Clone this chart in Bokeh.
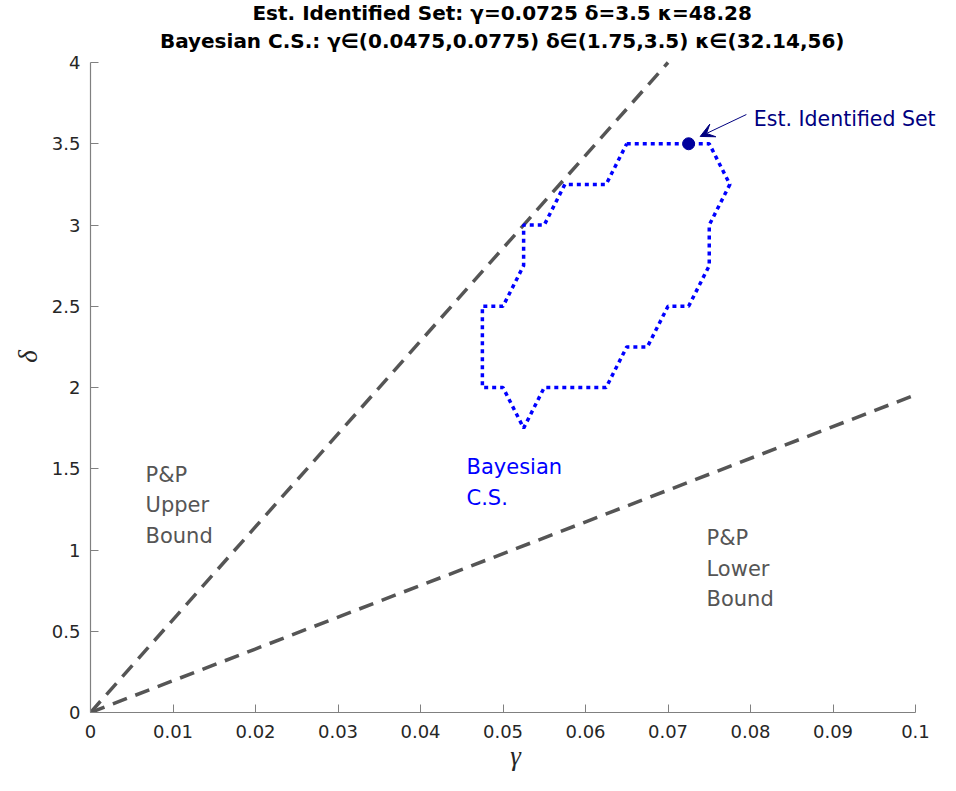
from bokeh.plotting import figure
from bokeh.models import Range1d, Label, Arrow, VeeHead, FixedTicker
from bokeh.embed import file_html
from bokeh.resources import INLINE

# ---- data ----
x_ticks = [0, 0.01, 0.02, 0.03, 0.04, 0.05, 0.06, 0.07, 0.08, 0.09, 0.1]
x_tick_labels = ["0", "0.01", "0.02", "0.03", "0.04", "0.05", "0.06", "0.07", "0.08", "0.09", "0.1"]
y_ticks = [0, 0.5, 1, 1.5, 2, 2.5, 3, 3.5, 4]
y_tick_labels = ["0", "0.5", "1", "1.5", "2", "2.5", "3", "3.5", "4"]

upper_gamma = [0.0, 0.07]
upper_delta = [0.0, 4.0]
lower_gamma = [0.0, 0.1]
lower_delta = [0.0, 1.955]

cs_gamma = [0.065, 0.075, 0.0775, 0.075, 0.075, 0.0725, 0.07, 0.0675, 0.065, 0.0625,
            0.055, 0.0525, 0.05, 0.0475, 0.0475, 0.05, 0.0525, 0.0525, 0.055, 0.0575,
            0.0625, 0.065]
cs_delta = [3.5, 3.5, 3.25, 3.0, 2.75, 2.5, 2.5, 2.25, 2.25, 2.0,
            2.0, 1.75, 2.0, 2.0, 2.5, 2.5, 2.75, 3.0, 3.0, 3.25,
            3.25, 3.5]

est_gamma = [0.0725]
est_delta = [3.5]

title_line1 = "Est. Identified Set: γ=0.0725 δ=3.5 κ=48.28"
title_line2 = "Bayesian C.S.: γ∈(0.0475,0.0775) δ∈(1.75,3.5) κ∈(32.14,56)"

# ---- layout (frame extended beyond the axes so texts above/right are not clipped) ----
W, H = 940, 775
LEFT, BOTTOM = 90, 63
frame_w = W - LEFT
frame_h = H - BOTTOM
px_per_x = 825 / 0.1      # 0..0.1 spans 825 px
px_per_y = 650 / 4.0      # 0..4 spans 650 px
x_end = frame_w / px_per_x
y_end = frame_h / px_per_y

p = figure(width=W, height=H, x_range=Range1d(0, x_end), y_range=Range1d(0, y_end),
           output_backend="svg", toolbar_location=None,
           min_border_left=LEFT, min_border_right=0, min_border_top=0, min_border_bottom=BOTTOM)
p.grid.visible = False
p.outline_line_color = None
p.background_fill_color = "white"

axis_col = "#808080"
lab_col = "#262626"
for ax, ticks, labels in ((p.xaxis, x_ticks, x_tick_labels), (p.yaxis, y_ticks, y_tick_labels)):
    ax.ticker = FixedTicker(ticks=ticks)
    ax.bounds = (ticks[0], ticks[-1])
    ax.major_label_overrides = {t: l for t, l in zip(ticks, labels)}
    ax.major_tick_in = 8
    ax.major_tick_out = 0
    ax.minor_tick_line_color = None
    ax.axis_line_color = axis_col
    ax.major_tick_line_color = axis_col
    ax.axis_line_width = 1.2
    ax.major_label_text_color = lab_col
    ax.major_label_text_font = "DejaVu Sans"
    ax.major_label_text_font_size = "18px"
    ax.axis_label_text_font = "Liberation Serif"
    ax.axis_label_text_font_style = "italic"
    ax.axis_label_text_font_size = "27px"
    ax.axis_label_text_color = lab_col

p.xaxis.axis_label = "γ"
p.yaxis.axis_label = "δ"
p.xaxis.major_label_standoff = 12
p.yaxis.major_label_standoff = 10
p.xaxis.axis_label_standoff = 0
p.yaxis.axis_label_standoff = 6

gray = "#555555"
p.line(upper_gamma, upper_delta, line_color=gray, line_width=3.5, line_dash="15 9")
p.line(lower_gamma, lower_delta, line_color=gray, line_width=3.5, line_dash="15 9")
p.line(cs_gamma, cs_delta, line_color="#0000FF", line_width=3.5, line_dash="4 4")
p.scatter(est_gamma, est_delta, size=12, fill_color="#00009C", line_color="#00009C")

navy = "#00007F"
p.add_layout(Arrow(end=VeeHead(size=14, fill_color=navy, line_color=navy, line_width=1),
                   x_start=0.0795, y_start=3.68, x_end=0.0739, y_end=3.545,
                   line_color=navy, line_width=1))
p.add_layout(Label(x=0.0804, y=3.655, text="Est. Identified Set", text_baseline="middle",
                   text_font="DejaVu Sans", text_font_size="20.5px", text_color=navy))

p.add_layout(Label(x=0.00667, y=1.274, text="P&P\nUpper\nBound", text_baseline="middle",
                   text_font="DejaVu Sans", text_font_size="21px", text_color=gray,
                   text_line_height=1.28))
p.add_layout(Label(x=0.04558, y=1.415, text="Bayesian\nC.S.", text_baseline="middle",
                   text_font="DejaVu Sans", text_font_size="21px", text_color="#0000FF",
                   text_line_height=1.28))
p.add_layout(Label(x=0.07467, y=0.886, text="P&P\nLower\nBound", text_baseline="middle",
                   text_font="DejaVu Sans", text_font_size="21px", text_color=gray,
                   text_line_height=1.28))

p.add_layout(Label(x=0.0499, y=4.305, text=title_line1, text_align="center", text_baseline="middle",
                   text_font="DejaVu Sans", text_font_style="bold", text_font_size="20px",
                   text_color="black"))
p.add_layout(Label(x=0.0499, y=4.132, text=title_line2, text_align="center", text_baseline="middle",
                   text_font="DejaVu Sans", text_font_style="bold", text_font_size="20px",
                   text_color="black"))

open("out.html", "w").write(file_html(p, INLINE))
